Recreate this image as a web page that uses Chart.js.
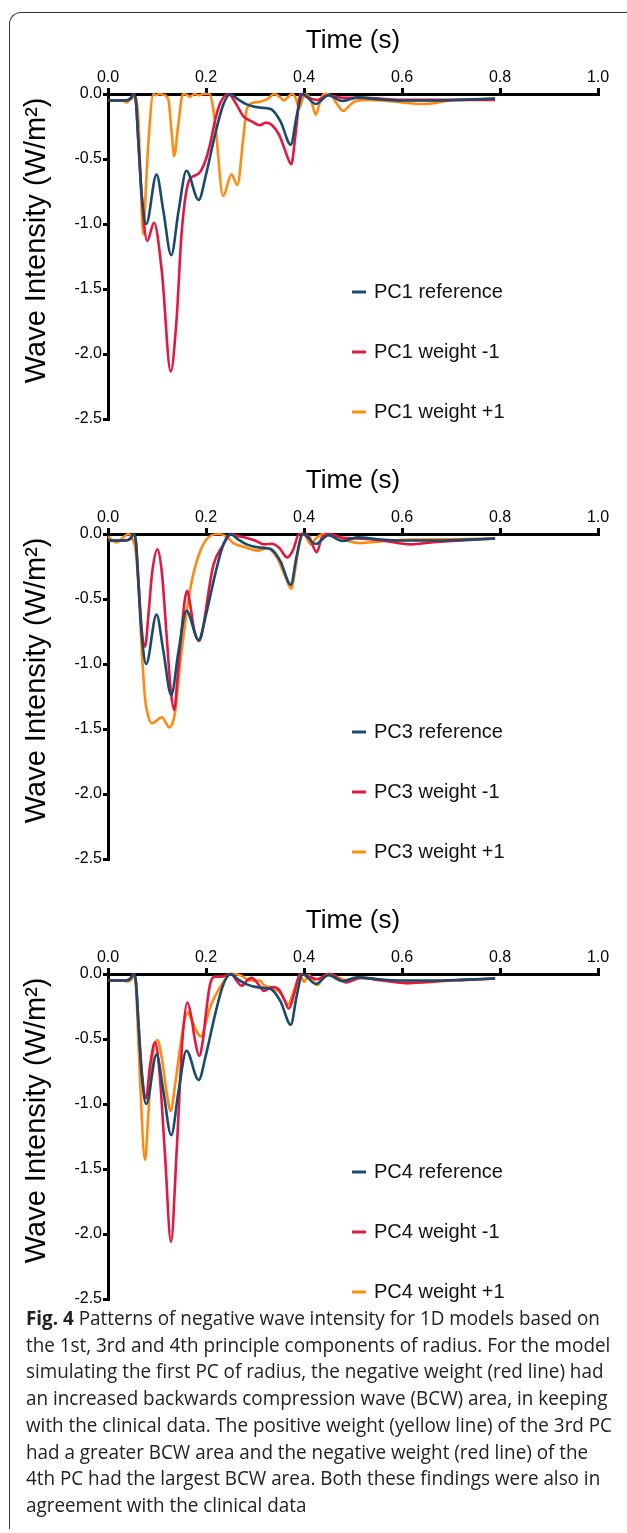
<!DOCTYPE html>
<html>
<head>
<meta charset="utf-8">
<script src="https://cdn.jsdelivr.net/npm/chart.js@4"></script>
<style>
    html, body { margin: 0; padding: 0; background: #fff; }
    body { width: 627px; height: 1533px; position: relative; overflow: hidden; }
    .frame {
        position: absolute; left: 9px; top: 12px; width: 700px; height: 1516px;
        border-left: 1.5px solid #333; border-top: 1.5px solid #333;
        border-top-left-radius: 12px;
    }
    canvas.panel { position: absolute; left: 0; }
    #caption {
        position: absolute; left: 26px; top: 1305px;
        font-family: "Open Sans", "Noto Sans", sans-serif; font-size: 20px;
        line-height: 26.7px; color: #222;
    }
    #caption .ln { display: block; width: max-content; white-space: nowrap; transform-origin: 0 50%; }
</style>
</head>
<body>
<div class="frame"></div>
<canvas class="panel" id="painel1" width="627" height="440" style="top:0px"></canvas>
<canvas class="panel" id="painel3" width="627" height="440" style="top:440px"></canvas>
<canvas class="panel" id="painel4" width="627" height="440" style="top:880px"></canvas>
<div id="caption">
    <span class="ln"><b>Fig. 4</b> Patterns of negative wave intensity for 1D models based on</span>
    <span class="ln">the 1st, 3rd and 4th principle components of radius. For the model</span>
    <span class="ln">simulating the first PC of radius, the negative weight (red line) had</span>
    <span class="ln">an increased backwards compression wave (BCW) area, in keeping</span>
    <span class="ln">with the clinical data. The positive weight (yellow line) of the 3rd PC</span>
    <span class="ln">had a greater BCW area and the negative weight (red line) of the</span>
    <span class="ln">4th PC had the largest BCW area. Both these findings were also in</span>
    <span class="ln">agreement with the clinical data</span>
</div>
<script>
// ---- dados: [tempo (s), intensidade (W/m²)] ----
const referencia = [
    [0,-0.05],[0.035,-0.05],[0.046,-0.035],[0.052,0],[0.057,-0.06],[0.062,-0.37],[0.069,-0.78],
    [0.078,-1.0],[0.099,-0.62],[0.113,-0.9],[0.129,-1.24],[0.144,-0.9],[0.16,-0.59],[0.185,-0.815],
    [0.2,-0.62],[0.218,-0.32],[0.235,-0.085],[0.25,0],[0.265,-0.04],[0.283,-0.08],[0.31,-0.105],
    [0.332,-0.115],[0.352,-0.21],[0.373,-0.39],[0.385,-0.17],[0.397,0],[0.424,-0.077],[0.45,-0.01],
    [0.478,-0.054],[0.509,-0.026],[0.55,-0.04],[0.6,-0.05],[0.66,-0.05],[0.72,-0.045],[0.79,-0.035]
];

const pc1Menos = [
    [0,-0.05],[0.035,-0.05],[0.046,-0.035],[0.052,0],[0.057,-0.06],[0.062,-0.37],[0.07,-0.85],
    [0.08,-1.13],[0.094,-0.99],[0.11,-1.37],[0.128,-2.135],[0.14,-1.73],[0.15,-1.08],[0.164,-0.68],
    [0.176,-0.63],[0.188,-0.6],[0.2,-0.5],[0.208,-0.39],[0.22,-0.18],[0.229,-0.07],[0.246,0],
    [0.262,-0.08],[0.276,-0.17],[0.293,-0.21],[0.31,-0.24],[0.322,-0.22],[0.335,-0.24],[0.35,-0.32],
    [0.362,-0.44],[0.374,-0.54],[0.383,-0.3],[0.393,0],[0.41,-0.03],[0.427,-0.046],[0.45,-0.01],
    [0.48,-0.03],[0.52,-0.03],[0.6,-0.045],[0.7,-0.045],[0.79,-0.045]
];

const pc1Mais = [
    [0,-0.05],[0.03,-0.05],[0.038,-0.065],[0.046,-0.04],[0.055,-0.02],[0.062,-0.2],[0.066,-0.6],
    [0.072,-1.077],[0.077,-0.75],[0.082,-0.4],[0.0925,0],[0.098,-0.01],[0.105,0],[0.112,-0.005],
    [0.123,-0.04],[0.13,-0.3],[0.135,-0.477],[0.143,-0.25],[0.153,0],[0.16,-0.005],[0.168,-0.02],
    [0.176,0],[0.186,-0.01],[0.195,0],[0.207,0],[0.218,-0.2],[0.235,-0.785],[0.252,-0.617],
    [0.264,-0.7],[0.276,-0.34],[0.283,-0.12],[0.296,-0.067],[0.31,-0.06],[0.325,-0.04],[0.339,0],
    [0.35,-0.02],[0.359,-0.05],[0.368,-0.02],[0.376,0],[0.384,-0.04],[0.39,-0.11],[0.396,-0.05],
    [0.401,0],[0.41,-0.02],[0.416,-0.07],[0.424,-0.16],[0.432,-0.07],[0.44,0],[0.455,-0.01],
    [0.468,-0.08],[0.48,-0.13],[0.49,-0.1],[0.502,-0.06],[0.53,-0.045],[0.56,-0.05],[0.6,-0.065],
    [0.645,-0.077],[0.7,-0.05],[0.79,-0.035]
];

const pc3Menos = [
    [0,-0.05],[0.035,-0.05],[0.046,-0.035],[0.052,0],[0.057,-0.06],[0.062,-0.35],[0.068,-0.7],
    [0.0755,-0.867],[0.083,-0.6],[0.09,-0.3],[0.101,-0.118],[0.11,-0.3],[0.12,-0.8],[0.128,-1.2],
    [0.135,-1.354],[0.142,-1.1],[0.15,-0.75],[0.157,-0.5],[0.162,-0.436],[0.168,-0.55],[0.176,-0.74],
    [0.186,-0.823],[0.195,-0.7],[0.205,-0.45],[0.215,-0.24],[0.235,-0.085],[0.252,0],[0.27,-0.02],
    [0.283,-0.03],[0.3,-0.05],[0.318,-0.08],[0.335,-0.075],[0.35,-0.11],[0.366,-0.18],[0.378,-0.12],
    [0.39,0],[0.4,0],[0.41,-0.02],[0.426,-0.14],[0.436,-0.03],[0.45,0],[0.48,-0.03],[0.51,-0.035],
    [0.56,-0.05],[0.618,-0.08],[0.66,-0.065],[0.72,-0.05],[0.79,-0.035]
];

const pc3Mais = [
    [0,-0.02],[0.018,-0.065],[0.03,-0.03],[0.041,0],[0.05,-0.04],[0.056,-0.12],[0.062,-0.39],
    [0.069,-0.9],[0.0755,-1.26],[0.082,-1.4],[0.09,-1.456],[0.11,-1.41],[0.125,-1.487],[0.132,-1.45],
    [0.137,-1.37],[0.147,-1.0],[0.157,-0.7],[0.167,-0.44],[0.181,-0.21],[0.2,-0.046],[0.225,0],
    [0.242,-0.02],[0.256,-0.07],[0.283,-0.105],[0.305,-0.128],[0.325,-0.11],[0.346,-0.19],
    [0.362,-0.33],[0.374,-0.42],[0.383,-0.25],[0.39,-0.085],[0.4,0],[0.414,-0.08],[0.424,-0.035],
    [0.44,0],[0.47,-0.03],[0.515,-0.07],[0.55,-0.06],[0.6,-0.045],[0.7,-0.04],[0.79,-0.035]
];

const pc4Menos = [
    [0,-0.05],[0.035,-0.05],[0.046,-0.035],[0.052,0],[0.057,-0.06],[0.062,-0.37],[0.069,-0.75],
    [0.0775,-0.956],[0.086,-0.7],[0.096,-0.526],[0.105,-0.75],[0.116,-1.37],[0.1286,-2.06],
    [0.14,-1.37],[0.152,-0.5],[0.162,-0.22],[0.17,-0.33],[0.178,-0.52],[0.186,-0.63],[0.194,-0.5],
    [0.2,-0.3],[0.208,-0.085],[0.218,-0.02],[0.232,-0.02],[0.252,0],[0.262,-0.05],[0.273,-0.09],
    [0.284,-0.05],[0.293,-0.03],[0.305,-0.07],[0.318,-0.13],[0.335,-0.1],[0.349,-0.12],[0.36,-0.2],
    [0.369,-0.265],[0.38,-0.15],[0.392,0],[0.41,-0.02],[0.427,-0.04],[0.45,0],[0.487,-0.065],
    [0.515,-0.03],[0.56,-0.05],[0.611,-0.07],[0.67,-0.055],[0.73,-0.045],[0.79,-0.035]
];

const pc4Mais = [
    [0,-0.05],[0.03,-0.05],[0.04,-0.06],[0.048,-0.04],[0.052,-0.01],[0.057,-0.1],[0.065,-0.78],
    [0.0755,-1.43],[0.082,-1.1],[0.089,-0.7],[0.1007,-0.508],[0.11,-0.65],[0.12,-0.92],[0.128,-1.054],
    [0.137,-0.85],[0.147,-0.57],[0.155,-0.38],[0.162,-0.295],[0.172,-0.36],[0.182,-0.45],[0.19,-0.48],
    [0.2,-0.37],[0.208,-0.26],[0.229,-0.1],[0.252,0],[0.27,-0.01],[0.29,-0.05],[0.31,-0.05],
    [0.318,-0.085],[0.339,-0.11],[0.355,-0.16],[0.367,-0.235],[0.38,-0.12],[0.392,-0.01],[0.4,-0.06],
    [0.41,-0.01],[0.427,-0.085],[0.44,-0.02],[0.45,0],[0.487,-0.05],[0.515,-0.03],[0.56,-0.045],
    [0.611,-0.07],[0.7,-0.05],[0.79,-0.035]
];

const ticksX = [0, 0.2, 0.4, 0.6, 0.8, 1.0];
const ticksY = [0, -0.5, -1.0, -1.5, -2.0, -2.5];

const COR_REF = "#1a4a6c";
const COR_MENOS = "#e3173f";
const COR_MAIS = "#ff8a12";
const FONTE = '"Liberation Sans", Arial, sans-serif';

Chart.defaults.font.family = FONTE;
Chart.defaults.color = "#000";

// legenda dentro da área do gráfico
const legendaInterna = {
    id: "legendaInterna",
    afterDraw(chart) {
        const ctx = chart.ctx;
        const linhas = [292, 352, 412];
        ctx.save();
        ctx.font = "20px " + FONTE;
        ctx.textBaseline = "middle";
        chart.data.datasets.forEach((ds, i) => {
            const y = linhas[i];
            ctx.strokeStyle = ds.borderColor;
            ctx.lineWidth = 3;
            ctx.beginPath();
            ctx.moveTo(352, y);
            ctx.lineTo(366, y);
            ctx.stroke();
            ctx.fillStyle = "#111";
            ctx.fillText(ds.label, 374, y);
        });
        ctx.restore();
    }
};

function serie(label, pares, cor, ordem) {
    return {
        label: label,
        data: pares.map(p => ({ x: p[0], y: p[1] })),
        borderColor: cor,
        backgroundColor: cor,
        borderWidth: 2.6,
        pointRadius: 0,
        fill: false,
        cubicInterpolationMode: "monotone",
        clip: false,
        order: ordem
    };
}

function criarPainel(id, pc, menos, mais) {
    new Chart(document.getElementById(id), {
        type: "line",
        data: {
            datasets: [
                serie(pc + " reference", referencia, COR_REF, 0),
                serie(pc + " weight -1", menos, COR_MENOS, 1),
                serie(pc + " weight +1", mais, COR_MAIS, 2)
            ]
        },
        options: {
            responsive: false, animation: false,
            layout: { padding: { left: 0, right: 29, top: 0, bottom: 21 } },
            plugins: { legend: { display: false }, tooltip: { enabled: false } },
            scales: {
                x: {
                    type: "linear", position: "top", min: 0, max: 1,
                    afterFit: s => { s.height = 94; },
                    afterBuildTicks: s => { s.ticks = ticksX.map(v => ({ value: v })); },
                    ticks: { callback: v => v.toFixed(1), font: { size: 16 }, color: "#000", padding: 1, maxRotation: 0, autoSkip: false },
                    grid: { drawOnChartArea: false, drawTicks: true, tickLength: 6, color: "#000", lineWidth: 3 },
                    border: { display: true, color: "#000", width: 3 },
                    title: { display: true, text: "Time (s)", font: { size: 26 }, color: "#000", padding: { top: 25, bottom: 0 } }
                },
                y: {
                    type: "linear", min: -2.5, max: 0,
                    afterFit: s => { s.width = 108; },
                    afterBuildTicks: s => { s.ticks = ticksY.map(v => ({ value: v })); },
                    ticks: { callback: v => v.toFixed(1), font: { size: 16 }, color: "#000", padding: 1 },
                    grid: { drawOnChartArea: false, drawTicks: true, tickLength: 5, color: "#000", lineWidth: 3 },
                    border: { display: true, color: "#000", width: 3 },
                    // espaços iniciais deslocam o título um pouco para cima, como no original
                    title: { display: true, text: "\u00a0\u00a0\u00a0\u00a0Wave Intensity (W/m²)", font: { size: 29 }, color: "#000", padding: { top: 20, bottom: 0 } }
                }
            }
        },
        plugins: [legendaInterna]
    });
}

criarPainel("painel1", "PC1", pc1Menos, pc1Mais);
criarPainel("painel3", "PC3", pc3Menos, pc3Mais);
criarPainel("painel4", "PC4", pc4Menos, pc4Mais);

// legenda da figura: fonte condensada
const linhasLegenda = document.querySelectorAll("#caption .ln");
let maisLarga = 0;
linhasLegenda.forEach(l => { maisLarga = Math.max(maisLarga, l.getBoundingClientRect().width); });
const fator = 586 / maisLarga;
linhasLegenda.forEach(l => { l.style.transform = `scaleX(${fator})`; });
</script>
</body>
</html>
